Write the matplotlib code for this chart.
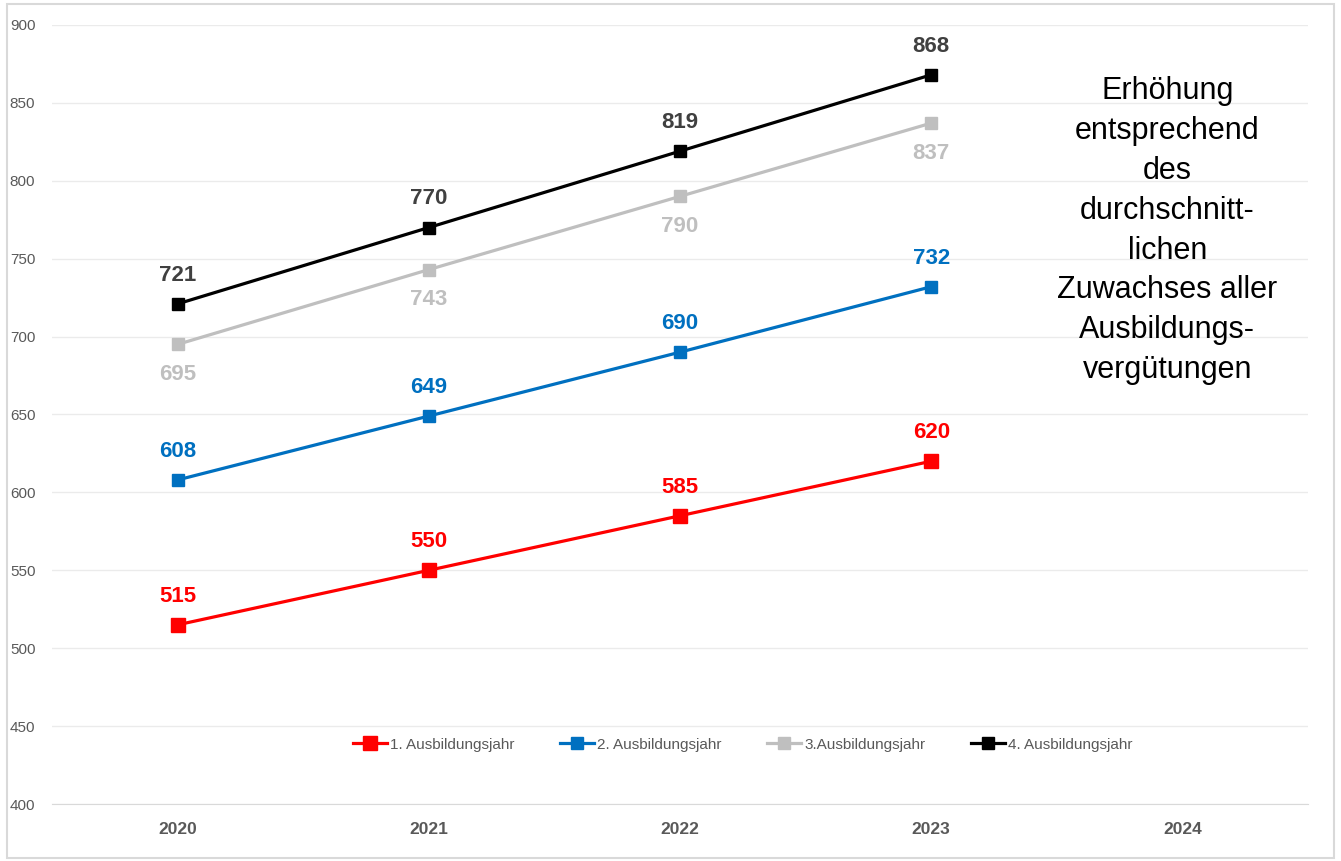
import matplotlib.pyplot as plt
from matplotlib.patches import Rectangle

years = ['2020', '2021', '2022', '2023', '2024']
jahr1 = [515, 550, 585, 620]
jahr2 = [608, 649, 690, 732]
jahr3 = [695, 743, 790, 837]
jahr4 = [721, 770, 819, 868]
names = ['1. Ausbildungsjahr', '2. Ausbildungsjahr', '3.Ausbildungsjahr', '4. Ausbildungsjahr']
colors = ['#FF0000', '#0070C0', '#BFBFBF', '#000000']
label_colors = ['#FF0000', '#0070C0', '#BFBFBF', '#404040']
note = 'Erhöhung\nentsprechend\ndes\ndurchschnitt-\nlichen\nZuwachses aller\nAusbildungs-\nvergütungen'

narrow = ['Liberation Sans Narrow', 'Liberation Sans', 'DejaVu Sans']
plt.rcParams['font.family'] = ['Liberation Sans', 'DejaVu Sans']

fig = plt.figure(figsize=(13.41, 8.61), dpi=100)
ax = fig.add_axes([0.0388, 0.0662, 0.9366, 0.9048])
fig.patches.append(Rectangle((0.005, 0.003), 0.99, 0.992, transform=fig.transFigure,
                             fill=False, edgecolor='#D9D9D9', linewidth=1.5))

series = [jahr1, jahr2, jahr3, jahr4]
msizes = [10, 8.5, 8.5, 8.5]
for i, vals in enumerate(series):
    xs = list(range(len(vals)))
    ax.plot(xs, vals, color=colors[i], linewidth=2.3, marker='s', markersize=msizes[i],
            label=names[i], zorder=3)
    for x, v in zip(xs, vals):
        if i == 2:
            off, va = -14, 'top'
        else:
            off, va = 13, 'bottom'
        ax.annotate(str(v), (x, v), xytext=(0, off), textcoords='offset points',
                    ha='center', va=va, fontsize=16, fontweight='bold',
                    color=label_colors[i], family=narrow)

ax.set_xlim(-0.5, 4.5)
ax.set_ylim(400, 900)
ax.set_yticks(range(400, 901, 50))
ax.set_xticks(range(len(years)))
ax.set_xticklabels(years, fontweight='bold', fontsize=12.5, color='#595959', family=narrow)
for t in ax.get_yticklabels():
    t.set_fontsize(11)
    t.set_color('#595959')
    t.set_family(narrow)
ax.tick_params(axis='both', length=0)
ax.tick_params(axis='x', pad=13)
ax.tick_params(axis='y', pad=12)
ax.grid(axis='y', color='#EBEBEB', linewidth=1)
ax.set_axisbelow(True)
for s in ['top', 'right', 'left']:
    ax.spines[s].set_visible(False)
ax.spines['bottom'].set_color('#D9D9D9')

ax.text(3.94, 768, note, ha='center', va='center', fontsize=22, color='#000000',
        linespacing=1.43, family=narrow)

leg = ax.legend(loc='center', bbox_to_anchor=(0.55, 0.076), ncol=4, frameon=False,
                prop={'family': narrow, 'size': 11}, handlelength=2.2, columnspacing=3,
                handletextpad=0.2)
for t in leg.get_texts():
    t.set_color('#595959')

fig.savefig('out.png', dpi=100)
